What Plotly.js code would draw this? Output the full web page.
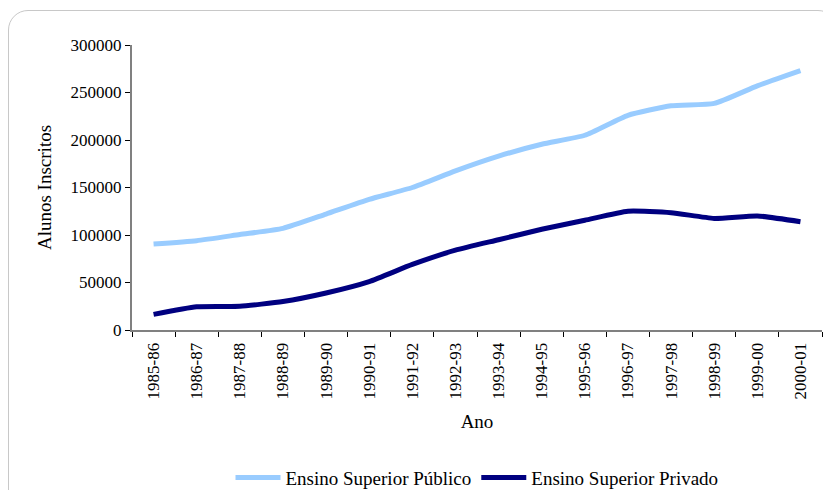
<!DOCTYPE html>
<html>
<head>
<meta charset="utf-8">
<script src="https://cdn.plot.ly/plotly-3.0.1.min.js"></script>
<style>
  html, body { margin: 0; padding: 0; background: #ffffff; overflow: hidden; }
  #frame { position: absolute; left: 8px; top: 10px; width: 830px; height: 500px;
           border: 1px solid #c8c8c8; border-radius: 20px; box-sizing: border-box; }
  #chart { position: absolute; left: 0; top: 0; width: 823px; height: 490px; }
</style>
</head>
<body>
<div id="frame"></div>
<div id="chart"></div>
<script>
const categories = ["1985-86","1986-87","1987-88","1988-89","1989-90","1990-91","1991-92","1992-93",
                    "1993-94","1994-95","1995-96","1996-97","1997-98","1998-99","1999-00","2000-01"];
const publico = [90500, 94000, 100500, 107000, 122000, 137500, 150000, 167500,
                 183000, 195500, 205000, 226000, 236000, 238500, 257000, 273000];
const privado = [16500, 24500, 25000, 30000, 39000, 51000, 69000, 84000,
                 95000, 106000, 115500, 125000, 123500, 117500, 120000, 114000];
const seriesNames = ["Ensino Superior Público", "Ensino Superior Privado"];
const yTicks = [0, 50000, 100000, 150000, 200000, 250000, 300000];

const font = {family: "Liberation Serif, Times New Roman, serif", size: 17, color: "#000000"};
const bigFont = {family: "Liberation Serif, Times New Roman, serif", size: 19, color: "#000000"};

const traces = [
  {x: categories, y: publico, name: seriesNames[0], type: "scatter", mode: "lines",
   line: {color: "#99ccff", width: 5, shape: "spline", smoothing: 0.5}},
  {x: categories, y: privado, name: seriesNames[1], type: "scatter", mode: "lines",
   line: {color: "#000080", width: 5, shape: "spline", smoothing: 0.5}}
];

const layout = {
  width: 823, height: 490,
  paper_bgcolor: "rgba(0,0,0,0)", plot_bgcolor: "rgba(0,0,0,0)",
  margin: {l: 132, r: 1, t: 45, b: 160},
  font: font,
  showlegend: true,
  legend: {orientation: "h", x: 0.5, xanchor: "center", xref: "paper",
           y: 0.025, yanchor: "middle", yref: "container",
           font: bigFont, itemwidth: 45, tracegroupgap: 0},
  xaxis: {
    type: "category", range: [-0.5, categories.length - 0.5],
    tickangle: -90, ticks: "outside", ticklen: 5, tickcolor: "#000000",
    ticklabelstandoff: 4,
    tickson: "boundaries", showline: true, linecolor: "#808080", linewidth: 2,
    showgrid: false, zeroline: false, tickfont: font, automargin: false,
    title: {text: "Ano", font: bigFont, standoff: 16}
  },
  yaxis: {
    range: [0, 300000], tickvals: yTicks, ticktext: yTicks.map(String),
    ticks: "outside", ticklen: 5, tickcolor: "#000000",
    showline: true, linecolor: "#808080", linewidth: 2, showgrid: false, zeroline: false,
    tickfont: font, automargin: false,
    title: {text: "Alunos Inscritos", font: bigFont, standoff: 14}
  }
};

Plotly.newPlot("chart", traces, layout, {displayModeBar: false, staticPlot: true});
</script>
</body>
</html>
